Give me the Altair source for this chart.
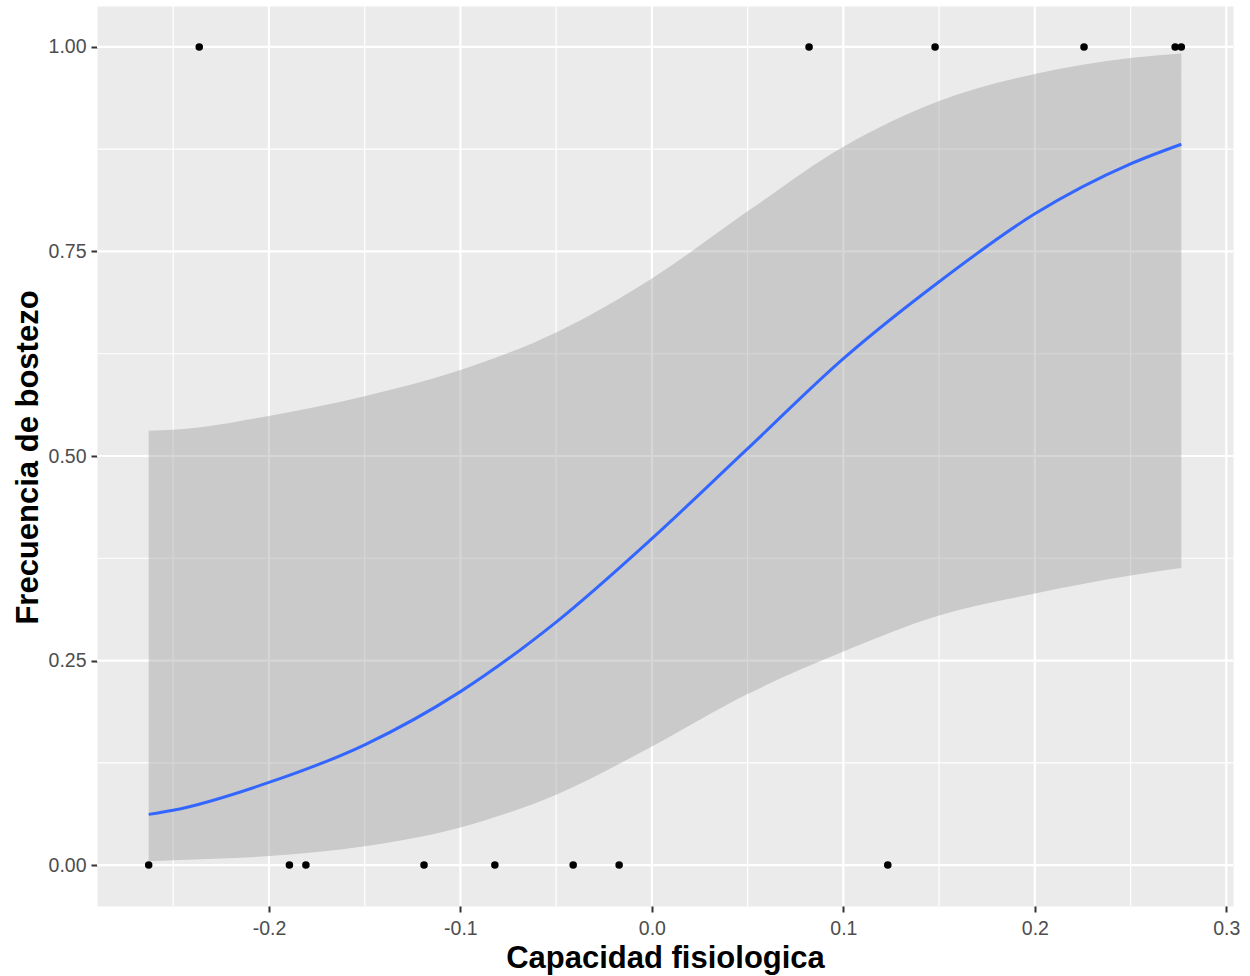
import altair as alt
import pandas as pd

# Observed points
pts_x = [-0.2628, -0.2364, -0.1893, -0.1807, -0.1190, -0.0820, -0.0411, -0.0171,
         0.0821, 0.1232, 0.1479, 0.2257, 0.2733, 0.2765]
pts_y = [0, 1, 0, 0, 0, 0, 0, 0, 1, 0, 1, 1, 1, 1]

# Fitted logistic curve and confidence band
fit_x = [-0.2628, -0.25, -0.2, -0.15, -0.1, -0.05, 0.0, 0.05, 0.1, 0.15, 0.2, 0.25, 0.2765]
fit_y = [0.062, 0.067, 0.101, 0.147, 0.212, 0.297, 0.399, 0.509, 0.619, 0.713, 0.796, 0.857, 0.881]
fit_hi = [0.531, 0.532, 0.549, 0.573, 0.605, 0.651, 0.717, 0.799, 0.878, 0.934, 0.967, 0.9865, 0.992]
fit_lo = [0.005, 0.006, 0.011, 0.023, 0.046, 0.086, 0.145, 0.209, 0.261, 0.305, 0.332, 0.354, 0.363]

# Axis breaks
x_major = [-0.2, -0.1, 0.0, 0.1, 0.2, 0.3]
x_minor = [-0.25, -0.15, -0.05, 0.05, 0.15, 0.25]
y_major = [0.0, 0.25, 0.5, 0.75, 1.0]
y_minor = [0.125, 0.375, 0.625, 0.875]

x_domain = [-0.2898, 0.3035]
y_domain = [-0.05, 1.05]

FONT = "Liberation Sans"
X_TITLE = "Capacidad fisiologica"
Y_TITLE = "Frecuencia de bostezo"

pts = pd.DataFrame({"x": pts_x, "y": pts_y})
fit = pd.DataFrame({"x": fit_x, "fit": fit_y, "lo": fit_lo, "hi": fit_hi})

xs = alt.Scale(domain=x_domain, nice=False, zero=False)
ys = alt.Scale(domain=y_domain, nice=False, zero=False)

x_axis = alt.Axis(values=x_major, grid=False, domain=False,
                  labelExpr="datum.value < 0 ? '-' + format(-datum.value, '.1f') : format(datum.value, '.1f')",
                  labelFont=FONT, labelFontSize=19.5, labelColor="#4D4D4D",
                  labelPadding=7, tickSize=6, tickWidth=2, tickColor="#333333",
                  titleFont=FONT, titleFontSize=31, titleFontWeight="bold", titleColor="black",
                  titleBaseline="alphabetic", titleAlign="center", titleX=568, titleY=61)
y_axis = alt.Axis(values=y_major, format=".2f", grid=False, domain=False,
                  labelFont=FONT, labelFontSize=19.5, labelColor="#4D4D4D",
                  labelPadding=5, tickSize=6, tickWidth=2, tickColor="#333333",
                  titleFont=FONT, titleFontSize=31, titleFontWeight="bold", titleColor="black",
                  titleAngle=270, titleBaseline="alphabetic", titleAlign="center",
                  titleX=-60, titleY=451)


def X(field):
    return alt.X(field, scale=xs, axis=x_axis, title=X_TITLE)


def Y(field):
    return alt.Y(field, scale=ys, axis=y_axis, title=Y_TITLE)


gx_minor = alt.Chart(pd.DataFrame({"v": x_minor})).mark_rule(color="white", strokeWidth=1.2).encode(x=X("v:Q"))
gx_major = alt.Chart(pd.DataFrame({"v": x_major})).mark_rule(color="white", strokeWidth=2.2).encode(x=X("v:Q"))
gy_minor = alt.Chart(pd.DataFrame({"v": y_minor})).mark_rule(color="white", strokeWidth=1.2).encode(y=Y("v:Q"))
gy_major = alt.Chart(pd.DataFrame({"v": y_major})).mark_rule(color="white", strokeWidth=2.2).encode(y=Y("v:Q"))

band = alt.Chart(fit).mark_area(color="#999999", opacity=0.4, interpolate="monotone").encode(
    x=X("x:Q"), y=Y("lo:Q"), y2="hi:Q")
line = alt.Chart(fit).mark_line(color="#3366FF", strokeWidth=3, interpolate="monotone").encode(
    x=X("x:Q"), y=Y("fit:Q"))
points = alt.Chart(pts).mark_circle(color="black", opacity=1, size=57).encode(
    x=X("x:Q"), y=Y("y:Q"))

chart = alt.layer(gx_minor, gy_minor, gx_major, gy_major, band, line, points).properties(
    width=1136, height=900,
    padding={"left": 97, "top": 6, "right": 17, "bottom": 70},
    autosize=alt.AutoSizeParams(type="none"),
    background="white",
).configure_view(fill="#EBEBEB", strokeOpacity=0)

chart.save("out.html", embed_options={"renderer": "svg", "actions": False})
